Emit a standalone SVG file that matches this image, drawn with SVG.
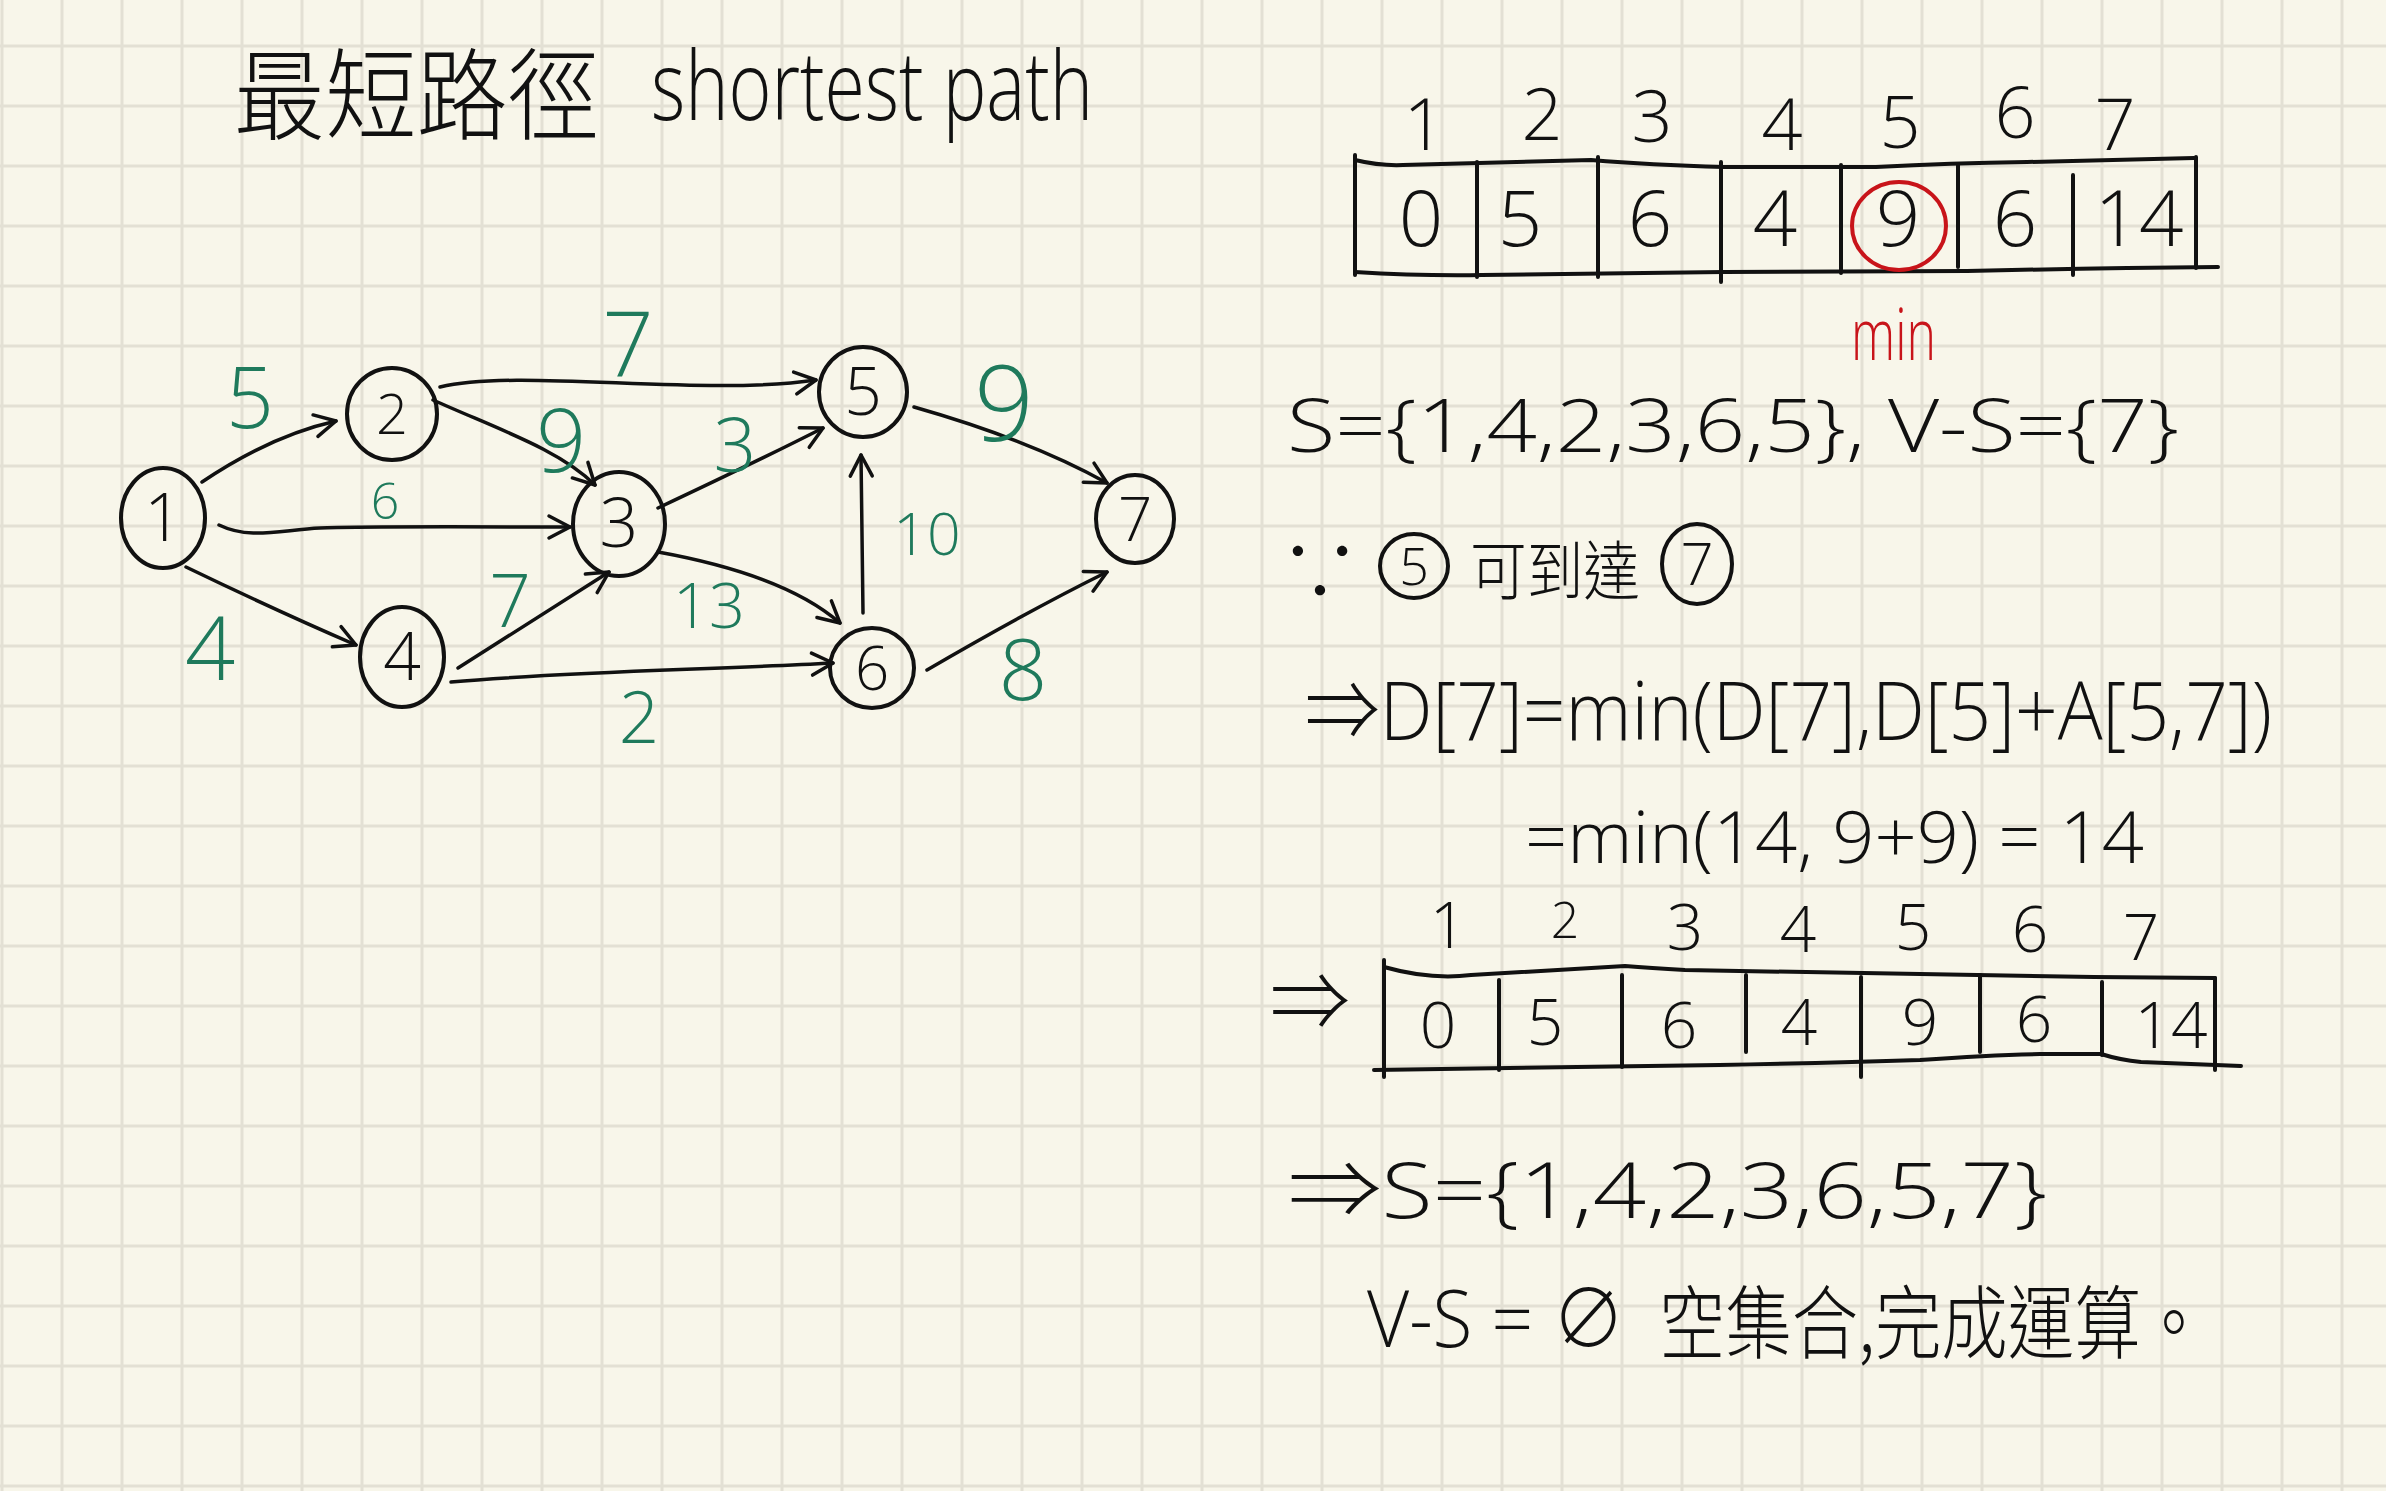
<svg xmlns="http://www.w3.org/2000/svg" width="2386" height="1491" viewBox="0 0 2386 1491">
<defs>
<pattern id="grid" patternUnits="userSpaceOnUse" x="0.5" y="44.5" width="60" height="60">
<rect width="60" height="60" fill="#f8f6ea"/>
<rect x="0" y="0" width="3" height="60" fill="#e3e0d4"/>
<rect x="0" y="0" width="60" height="3" fill="#e3e0d4"/>
</pattern>
<marker id="arr" markerUnits="userSpaceOnUse" markerWidth="30" markerHeight="30" refX="24" refY="14" orient="auto">
<path d="M3,3 L24,14 L3,25" fill="none" stroke="#111" stroke-width="3.5" stroke-linecap="round" stroke-linejoin="round"/>
</marker>
<style>
.hw{font-family:"Open Sans","Liberation Sans","Noto Sans CJK TC",sans-serif;font-weight:300;fill:#111}
.cjk{font-family:"Noto Sans CJK TC","Noto Sans CJK SC",sans-serif;font-weight:300;fill:#111}
.mid{text-anchor:middle}
.g{fill:#1f7a5c}
.red{fill:#c8141a}
.node ellipse{fill:none;stroke:#111;stroke-width:4}
.edge{fill:none;stroke:#111;stroke-width:3.5;stroke-linecap:round;marker-end:url(#arr)}
.ln{fill:none;stroke:#111;stroke-width:4;stroke-linecap:round;stroke-linejoin:round}
</style>
</defs>
<rect width="2386" height="1491" fill="url(#grid)"/>

<g id="title">
<text class="cjk" x="234" y="132" font-size="100" textLength="365" lengthAdjust="spacingAndGlyphs">最短路徑</text>
<text class="hw" x="651" y="120" font-size="95" textLength="442" lengthAdjust="spacingAndGlyphs">shortest path</text>
</g>

<g id="connectors">
<path class="edge" d="M202,482 Q270,436 336,421"/>
<path class="edge" d="M219,525 C250,540 280,530 320,528 S500,527 570,527"/>
<path class="edge" d="M186,567 Q275,610 356,645"/>
<path class="edge" d="M440,387 C520,368 700,397 816,380"/>
<path class="edge" d="M433,400 C500,430 560,450 595,485"/>
<path class="edge" d="M658,508 Q760,460 823,428"/>
<path class="edge" d="M658,552 Q785,575 840,623"/>
<path class="edge" d="M458,668 L609,572"/>
<path class="edge" d="M451,682 C560,672 700,670 833,663"/>
<path class="edge" d="M863,613 L861,455"/>
<path class="edge" d="M914,407 Q1030,440 1107,483"/>
<path class="edge" d="M927,670 Q1030,610 1107,572"/>
</g>

<g id="edge-labels">
<text class="hw g mid" x="250" y="428" font-size="84">5</text>
<text class="hw g mid" x="385" y="519" font-size="50">6</text>
<text class="hw g mid" x="210" y="680" font-size="88">4</text>
<text class="hw g mid" x="628" y="377" font-size="90">7</text>
<text class="hw g mid" x="561" y="472" font-size="88">9</text>
<text class="hw g mid" x="735" y="472" font-size="75">3</text>
<text class="hw g mid" x="709" y="628" font-size="63">13</text>
<text class="hw g mid" x="510" y="627" font-size="73">7</text>
<text class="hw g mid" x="639" y="743" font-size="71">2</text>
<text class="hw g mid" x="927" y="555" font-size="59">10</text>
<text class="hw g mid" x="1004" y="441" font-size="105">9</text>
<text class="hw g mid" x="1023" y="700" font-size="85">8</text>
</g>

<g id="node1" class="node"><ellipse cx="163" cy="518" rx="42" ry="50"/><text class="hw mid" x="163" y="541" font-size="66">1</text></g>
<g id="node2" class="node"><ellipse cx="392" cy="414" rx="45" ry="46"/><text class="hw mid" x="392" y="434" font-size="56">2</text></g>
<g id="node3" class="node"><ellipse cx="619" cy="524" rx="46" ry="52"/><text class="hw mid" x="619" y="547" font-size="68">3</text></g>
<g id="node4" class="node"><ellipse cx="402" cy="657" rx="42" ry="50"/><text class="hw mid" x="402" y="680" font-size="66">4</text></g>
<g id="node5" class="node"><ellipse cx="863" cy="392" rx="44" ry="45"/><text class="hw mid" x="863" y="415" font-size="66">5</text></g>
<g id="node6" class="node"><ellipse cx="872" cy="668" rx="42" ry="40"/><text class="hw mid" x="872" y="690" font-size="60">6</text></g>
<g id="node7" class="node"><ellipse cx="1135" cy="519" rx="39" ry="44"/><text class="hw mid" x="1135" y="541" font-size="60">7</text></g>

<g id="table1">
<g class="hw mid" font-size="72">
<text x="1424" y="150">1</text><text x="1542" y="140">2</text><text x="1652" y="142">3</text><text x="1782" y="150">4</text><text x="1900" y="148">5</text><text x="2015" y="138">6</text><text x="2115" y="150">7</text>
</g>
<path class="ln" d="M1355,160 Q1380,166 1403,165 L1591,160 Q1650,165 1724,167 L1876,167 Q1950,163 2027,162 L2194,158"/>
<path class="ln" d="M1355,272 Q1420,276 1482,275 L1724,272 L1967,271 Q2100,268 2218,267"/>
<path class="ln" d="M1355,155 L1355,275 M1477,162 L1477,277 M1598,157 L1598,277 M1721,162 L1721,282 M1841,165 L1841,273 M1958,165 L1958,267 M2073,175 L2073,275 M2196,157 L2196,268"/>
<g class="hw mid" font-size="78">
<text x="1421" y="246">0</text><text x="1520" y="246">5</text><text x="1650" y="246">6</text><text x="1775" y="246">4</text><text x="1898" y="246">9</text><text x="2015" y="246">6</text><text x="2139" y="246">14</text>
</g>
<ellipse cx="1899" cy="226" rx="47" ry="44" fill="none" stroke="#c8141a" stroke-width="4"/>
<text class="hw red" x="1851" y="360" font-size="72" textLength="85" lengthAdjust="spacingAndGlyphs">min</text>
</g>

<g id="sets1">
<text class="hw" x="1287" y="452" font-size="74" textLength="892" lengthAdjust="spacingAndGlyphs">S={1,4,2,3,6,5}, V-S={7}</text>
</g>

<g id="reach">
<text class="hw mid" x="1320" y="600" font-size="80">∵</text>
<ellipse cx="1414" cy="566" rx="34" ry="32" fill="none" stroke="#111" stroke-width="4"/>
<text class="hw mid" x="1414" y="585" font-size="52">5</text>
<text class="cjk" x="1470" y="594" font-size="64" textLength="170" lengthAdjust="spacingAndGlyphs">可到達</text>
<ellipse cx="1697" cy="564" rx="35" ry="40" fill="none" stroke="#111" stroke-width="4"/>
<text class="hw mid" x="1697" y="585" font-size="58">7</text>
</g>

<g id="formula">
<text class="hw" x="1305" y="740" font-size="82" textLength="967" lengthAdjust="spacingAndGlyphs">⇒D[7]=min(D[7],D[5]+A[5,7])</text>
<text class="hw" x="1525" y="863" font-size="72" textLength="619" lengthAdjust="spacingAndGlyphs">=min(14, 9+9) = 14</text>
</g>

<g id="table2">
<g class="hw mid" font-size="64">
<text x="1448" y="948">1</text><text x="1565" y="938" font-size="50">2</text><text x="1685" y="950">3</text><text x="1798" y="952">4</text><text x="1913" y="950">5</text><text x="2030" y="952">6</text><text x="2141" y="960">7</text>
</g>
<text class="hw mid" x="1310" y="1030" font-size="80">⇒</text>
<path class="ln" d="M1384,967 Q1430,980 1471,975 Q1560,970 1625,966 Q1650,968 1685,970 L2094,977 L2215,978"/>
<path class="ln" d="M1374,1070 Q1550,1068 1719,1065 Q1830,1063 1920,1060 Q1990,1055 2040,1054 L2101,1054 Q2120,1060 2141,1062 L2241,1066"/>
<path class="ln" d="M1384,960 L1384,1077 M1499,980 L1499,1070 M1622,975 L1622,1067 M1746,975 L1746,1052 M1861,977 L1861,1077 M1980,975 L1980,1052 M2102,982 L2102,1055 M2215,978 L2215,1070"/>
<g class="hw mid" font-size="64">
<text x="1438" y="1048">0</text><text x="1545" y="1045">5</text><text x="1679" y="1048">6</text><text x="1799" y="1045">4</text><text x="1920" y="1045">9</text><text x="2034" y="1042">6</text><text x="2171" y="1048">14</text>
</g>
</g>

<g id="sets2">
<text class="hw" x="1288" y="1218" font-size="78" textLength="759" lengthAdjust="spacingAndGlyphs">⇒S={1,4,2,3,6,5,7}</text>
<text class="hw" x="1367" y="1347" font-size="80" textLength="258" lengthAdjust="spacingAndGlyphs">V-S = ∅</text>
<text class="cjk" x="1659" y="1352" font-size="80" textLength="548" lengthAdjust="spacingAndGlyphs">空集合,完成運算。</text>
</g>
</svg>
